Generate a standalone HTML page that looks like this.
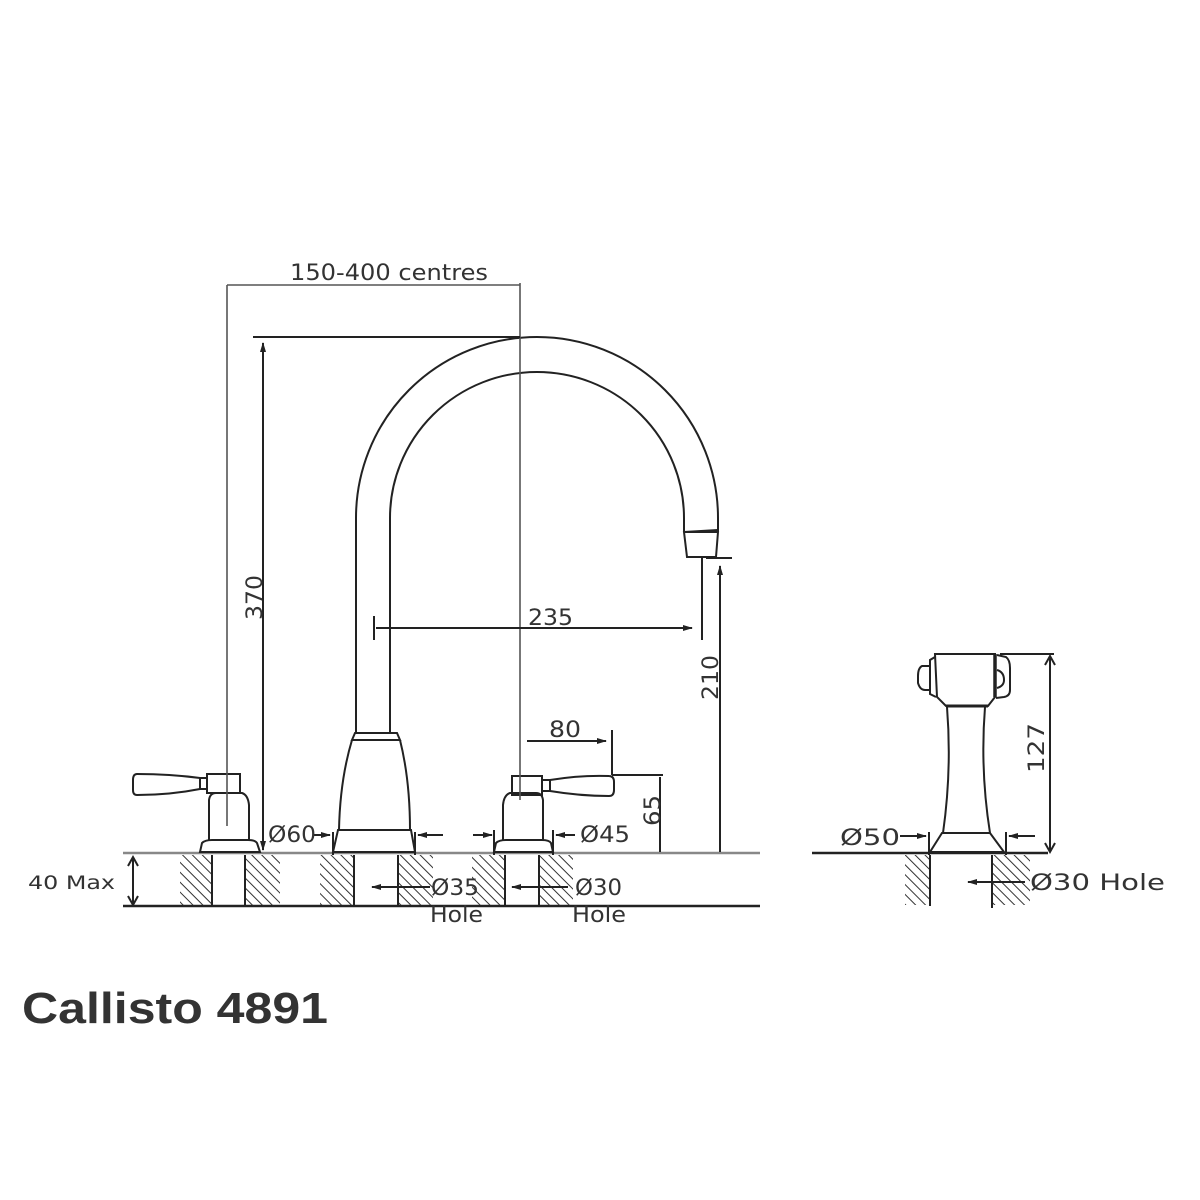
<!DOCTYPE html>
<html><head><meta charset="utf-8"><style>
html,body{margin:0;padding:0;background:#fff;}
svg{display:block;}
text{font-family:"DejaVu Sans","Liberation Sans",sans-serif;fill:#333;}
</style></head><body>
<svg width="1200" height="1200" viewBox="0 0 1200 1200" xmlns="http://www.w3.org/2000/svg">
<defs>
<pattern id="h" patternUnits="userSpaceOnUse" width="7" height="7" patternTransform="rotate(-45)">
<line x1="0" y1="0" x2="0" y2="7" stroke="#333" stroke-width="2"/>
</pattern>
<marker id="a" markerWidth="10" markerHeight="8" refX="9" refY="4" orient="auto" markerUnits="userSpaceOnUse">
<path d="M0,1 L10,4 L0,7 z" fill="#222"/>
</marker>
</defs>
<g fill="none" stroke="#222" stroke-width="2">
<!-- worktop -->
<line x1="123" y1="853" x2="760" y2="853" stroke="#888" stroke-width="2.5"/>
<line x1="123" y1="906" x2="760" y2="906" stroke-width="2.5"/>
<line x1="812" y1="853" x2="1048" y2="853" stroke-width="2.5"/>
<!-- hatching -->
<g stroke="none" fill="url(#h)">
<rect x="180" y="855" width="32" height="50"/>
<rect x="246" y="855" width="34" height="50"/>
<rect x="320" y="855" width="34" height="50"/>
<rect x="399" y="855" width="34" height="50"/>
<rect x="472" y="855" width="33" height="50"/>
<rect x="540" y="855" width="33" height="50"/>
<rect x="905" y="855" width="25" height="50"/>
<rect x="992" y="855" width="38" height="50"/>
</g>
<line x1="212" y1="855" x2="212" y2="906"/><line x1="245" y1="855" x2="245" y2="906"/>
<line x1="354" y1="855" x2="354" y2="906"/><line x1="398" y1="855" x2="398" y2="906"/>
<line x1="505" y1="855" x2="505" y2="906"/><line x1="539" y1="855" x2="539" y2="906"/>
<line x1="930" y1="855" x2="930" y2="906"/><line x1="992" y1="855" x2="992" y2="908"/>

<!-- spout -->
<path d="M356,733 L356,518 A181,181 0 0 1 537,337 A181,181 0 0 1 718,518 L718,532"/>
<path d="M390,733 L390,518 A147,146 0 0 1 537,372 A147,146 0 0 1 684,518 L684,532"/>
<path d="M684,532 L687,557 L716,557 L718,532 Z"/>
<line x1="684" y1="532" x2="718" y2="530"/>
<!-- spout body -->
<path d="M355,733 L397,733 L400,740 L352,740 Z"/>
<path d="M352,740 Q340,780 339,830"/>
<path d="M400,740 Q410,780 410,830"/>
<path d="M338,830 L411,830 L415,852 L333,852 Z"/>

<!-- left handle -->
<path d="M200,852 L202,843 Q205,840 212,840 L248,840 Q255,840 257,843 L260,852 Z"/>
<path d="M209,840 L209,800 Q210,793 216,793 L242,793 Q248,795 249,805 L249,840"/>
<rect x="207" y="774" width="33" height="19"/>
<rect x="200" y="778" width="7" height="11"/>
<path d="M200,778 Q170,774 137,774 Q133,774 133,780 L133,790 Q133,795 137,795 Q170,795 200,789"/>
<!-- right handle -->
<path d="M494,852 L496,843 Q499,840 506,840 L542,840 Q549,840 551,843 L553,852 Z"/>
<path d="M503,840 L503,805 Q504,795 510,793 L536,793 Q542,793 543,800 L543,840"/>
<rect x="512" y="776" width="30" height="19"/>
<rect x="542" y="780" width="8" height="11"/>
<path d="M550,780 Q580,775 609,776 Q614,776 614,782 L614,790 Q614,796 609,796 Q580,796 550,791"/>

<!-- spray -->
<path d="M935,654 L995,654 L995,697 L988,706 L946,706 L937,697 Z"/>
<path d="M935,657 L930,660 L930,694 L936,697"/>
<path d="M930,666 L922,666 Q918,668 918,676 L918,683 Q920,690 925,690 L930,690"/>
<path d="M997,655 L1006,657 Q1010,660 1010,668 L1010,690 Q1010,696 1004,697 L996,698"/>
<path d="M997,670 Q1004,672 1004,680 Q1004,686 997,688"/>
<line x1="995" y1="654" x2="995" y2="697" stroke-width="3.5"/>
<line x1="946" y1="706" x2="988" y2="706" stroke-width="3"/>
<path d="M947,707 Q952,770 943,833"/>
<path d="M985,707 Q980,770 990,833"/>
<path d="M942,833 L990,833 L1004,852 L930,852 Z"/>

<!-- dimensions -->
<g stroke="#555" stroke-width="1.6">
<line x1="227" y1="285" x2="227" y2="826"/>
<line x1="227" y1="285" x2="520" y2="285"/>
<line x1="520" y1="283" x2="520" y2="800"/>
</g>
<line x1="253" y1="337" x2="520" y2="337"/>
<line x1="263" y1="850" x2="263" y2="343" marker-end="url(#a)"/>
<line x1="263" y1="345" x2="263" y2="850" marker-end="url(#a)"/>
<line x1="374" y1="616" x2="374" y2="640"/>
<line x1="376" y1="628" x2="692" y2="628" marker-end="url(#a)"/>
<line x1="702" y1="558" x2="702" y2="640"/>
<line x1="706" y1="558" x2="732" y2="558"/>
<line x1="720" y1="852" x2="720" y2="566" marker-end="url(#a)"/>
<line x1="527" y1="741" x2="606" y2="741" marker-end="url(#a)"/>
<line x1="612" y1="730" x2="612" y2="775"/>
<line x1="612" y1="775" x2="663" y2="775"/>
<line x1="660" y1="777" x2="660" y2="852"/>
<line x1="133" y1="857" x2="133" y2="905"/>
<path d="M128,866 L133,857 L138,866 M128,896 L133,905 L138,896"/>
<line x1="1050" y1="656" x2="1050" y2="852"/>
<path d="M1045,665 L1050,656 L1055,665 M1045,843 L1050,852 L1055,843"/>
<line x1="1000" y1="654" x2="1054" y2="654"/>
<!-- diameter arrows -->
<line x1="313" y1="835" x2="330" y2="835" marker-end="url(#a)"/>
<line x1="333" y1="832" x2="333" y2="855"/>
<line x1="415" y1="832" x2="415" y2="855"/>
<line x1="443" y1="835" x2="418" y2="835" marker-end="url(#a)"/>
<line x1="473" y1="835" x2="492" y2="835" marker-end="url(#a)"/>
<line x1="494" y1="830" x2="494" y2="855"/>
<line x1="553" y1="830" x2="553" y2="855"/>
<line x1="575" y1="835" x2="556" y2="835" marker-end="url(#a)"/>
<line x1="397" y1="887" x2="372" y2="887" marker-end="url(#a)"/>
<line x1="397" y1="887" x2="430" y2="887"/>
<line x1="540" y1="887" x2="512" y2="887" marker-end="url(#a)"/>
<line x1="540" y1="887" x2="568" y2="887"/>
<line x1="900" y1="836" x2="926" y2="836" marker-end="url(#a)"/>
<line x1="929" y1="832" x2="929" y2="855"/>
<line x1="1006" y1="832" x2="1006" y2="855"/>
<line x1="1035" y1="836" x2="1009" y2="836" marker-end="url(#a)"/>
<line x1="992" y1="882" x2="968" y2="882" marker-end="url(#a)"/>
<line x1="992" y1="882" x2="1025" y2="882"/>
</g>

<g font-size="22" lengthAdjust="spacingAndGlyphs">
<text x="290" y="280" textLength="198" lengthAdjust="spacingAndGlyphs">150-400 centres</text>
<text x="528" y="625" textLength="45" lengthAdjust="spacingAndGlyphs">235</text>
<text x="549" y="737" textLength="32" lengthAdjust="spacingAndGlyphs">80</text>
<text x="268" y="842" textLength="48" lengthAdjust="spacingAndGlyphs">Ø60</text>
<text x="580" y="842" textLength="50" lengthAdjust="spacingAndGlyphs">Ø45</text>
<text x="431" y="895" textLength="48" lengthAdjust="spacingAndGlyphs">Ø35</text>
<text x="430" y="922" textLength="53" lengthAdjust="spacingAndGlyphs">Hole</text>
<text x="575" y="895" textLength="47" lengthAdjust="spacingAndGlyphs">Ø30</text>
<text x="572" y="922" textLength="54" lengthAdjust="spacingAndGlyphs">Hole</text>
<text x="840" y="845" textLength="60" lengthAdjust="spacingAndGlyphs">Ø50</text>
<text x="1030" y="890" textLength="135" lengthAdjust="spacingAndGlyphs">Ø30 Hole</text>
<text x="28" y="889" font-size="19" textLength="87" lengthAdjust="spacingAndGlyphs">40 Max</text>
<text transform="translate(262,620) rotate(-90)" textLength="45" lengthAdjust="spacingAndGlyphs">370</text>
<text transform="translate(718,700) rotate(-90)" textLength="45" lengthAdjust="spacingAndGlyphs">210</text>
<text transform="translate(660,826) rotate(-90)" textLength="31" lengthAdjust="spacingAndGlyphs">65</text>
<text transform="translate(1044,773) rotate(-90)" textLength="50" lengthAdjust="spacingAndGlyphs">127</text>
</g>
<text x="22" y="1023" font-weight="bold" font-size="44" textLength="306" lengthAdjust="spacingAndGlyphs" style="font-family:'Liberation Sans',sans-serif">Callisto 4891</text>
</svg>
</body></html>
